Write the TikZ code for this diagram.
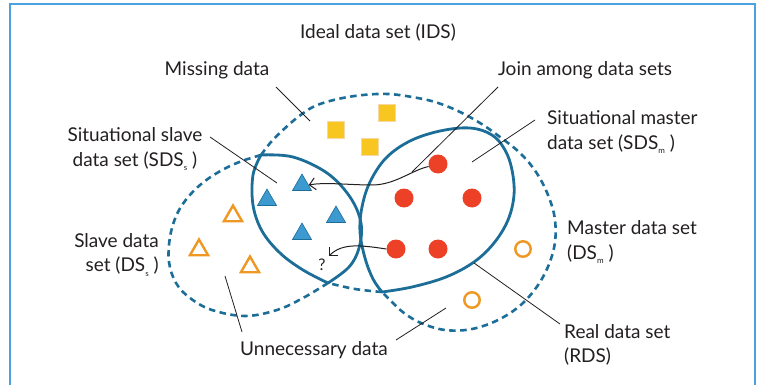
\documentclass[tikz,border=0pt]{standalone}
\usepackage{fontspec}
\setmainfont{Lato}
\usetikzlibrary{arrows.meta,shapes.geometric}
\definecolor{dblue}{HTML}{1C6E98}
\definecolor{tblue}{HTML}{3D9AD0}
\definecolor{tredc}{HTML}{EC4126}
\definecolor{yel}{HTML}{F8C620}
\definecolor{yeledge}{HTML}{F5D9A5}
\definecolor{orng}{HTML}{EE9722}
\definecolor{txt}{HTML}{231F20}
\definecolor{framec}{HTML}{4AA3DF}
\newcommand\subsc[1]{\raisebox{-4.5pt}{\fontsize{8}{8}\selectfont #1}\hspace{5pt}}
\begin{document}
\begin{tikzpicture}[x=1pt,y=-1pt,
  lbl/.style={font=\fontsize{19}{24.5}\selectfont, text=txt, inner sep=0pt},
  dset/.style={draw=dblue, line width=2.6pt, dash pattern=on 6.5pt off 4.5pt},
  sset/.style={draw=dblue, line width=2.8pt, line join=round},
  leader/.style={draw=txt, line width=0.8pt},
  arr/.style={draw=txt, line width=1pt, -{Straight Barb[length=6pt,width=12pt]}},
  btri/.style={regular polygon, regular polygon sides=3, fill=tblue, draw=dblue, line width=0.6pt, minimum size=22pt, inner sep=0pt},
  otri/.style={regular polygon, regular polygon sides=3, draw=orng, line width=2.4pt, minimum size=21pt, inner sep=0pt},
  rdot/.style={circle, fill=tredc, minimum size=19pt, inner sep=0pt},
  odot/.style={circle, draw=orng, line width=2.4pt, minimum size=15.5pt, inner sep=0pt},
  ysq/.style={rectangle, fill=yel, draw=yeledge, line width=0.8pt, minimum size=17pt, inner sep=0pt}]
\useasboundingbox (0,0) rectangle (762,385);
% frame
\draw[framec, line width=2pt] (9.5,386) -- (9.5,4.5) -- (754.5,4.5) -- (754.5,386);

% dashed sets
\draw[dset] plot[smooth, tension=0.6] coordinates {(261,155) (242,161) (224,169) (205,181) (189,196) (177,214) (170,237) (169,262) (176,283) (190,298) (212,310) (245,316) (277,310) (303,298) (328,283)};
\draw[dset] plot[smooth, tension=0.6] coordinates {(261,155) (271,142) (283,130) (298,117) (315,106) (338,99) (363,95) (388,94) (412,97) (435,102) (458,111) (480,123) (500,137) (520,153) (536,172) (548,195) (555,220) (554,248) (543,277) (524,302) (500,319) (472,329) (445,330) (421,323) (404,313) (391,301) (382,292)};
\draw[dset] plot[smooth, tension=0.6] coordinates {(382,292) (355,289) (328,283)};

% solid sets
\draw[sset] plot[smooth, tension=0.6] coordinates {(261,155) (293,157) (327,173) (350,197) (361,223) (359,248) (349,267) (328,283)}
  -- plot[smooth, tension=0.6] coordinates {(328,283) (303,270) (280,253) (262,231) (253,205) (253,175) (261,155)};
\draw[sset] plot[smooth, tension=0.6] coordinates {(382,292) (373,279) (365,258) (360,232) (362,207) (370,182) (386,158) (410,141) (440,131) (470,128) (492,135) (505,150) (512,170) (514,195) (508,220) (494,243) (474,262) (446,277) (412,287) (382,292)};

% items
\node[ysq] (y1) at (336,130) {};
\node[ysq] (y2) at (387,113) {};
\node[ysq] (y3) at (370,147) {};
\node[btri] (t1) at (302,185) {};
\node[btri] (t2) at (267,200) {};
\node[btri] (t3) at (336,217) {};
\node[btri] (t4) at (302,234) {};
\node[otri] (o1) at (233,216) {};
\node[otri] (o2) at (199,250) {};
\node[otri] (o3) at (250,267) {};
\node[rdot] (c1) at (438,164) {};
\node[rdot] (c2) at (404,198) {};
\node[rdot] (c3) at (472,198) {};
\node[rdot] (c4) at (396,249) {};
\node[rdot] (c5) at (438,249) {};
\node[odot] (e1) at (523,249) {};
\node[odot] (e2) at (472,300) {};
\node[lbl, font=\fontsize{16}{16}\selectfont] (q) at (322,265) {?};

% arrows
\coordinate (m1) at (372,185);
\coordinate (qa) at (329,256);
\draw[arr] (c1.195) .. controls (412,170) and (395,185) .. (m1) .. controls (350,185) and (325,182) .. (t1.east);
\draw[arr] (c4.west) .. controls (360,245) and (342,243) .. (qa);

% labels
\node[lbl] (ids) at (378,33) {Ideal data set (IDS)};
\node[lbl] (miss) at (217,70) {Missing data};
\node[lbl] (join) at (585,70) {Join among data sets};
\node[lbl, align=left, anchor=west] (sdsm) at (547,132.5) {Situational master\\data set (SDS\subsc{m})};
\node[lbl, align=center] (sdss) at (135,149.5) {Situational slave\\data set (SDS\subsc{s})};
\node[lbl, align=right, anchor=east] (dss) at (159,255) {Slave data\\set (DS\subsc{s})};
\node[lbl, align=left, anchor=west] (dsm) at (567,242.5) {Master data set\\(DS\subsc{m})};
\node[lbl] (unn) at (314,350) {Unnecessary data};
\node[lbl, align=left, anchor=west] (rds) at (564,345) {Real data set\\(RDS)};

% leaders
\coordinate (l1a) at (276,87);  \coordinate (l1b) at (310,121);
\coordinate (l2a) at (210,137); \coordinate (l2b) at (277,183);
\coordinate (l3a) at (498,87);  \coordinate (l3b) at (412,172);
\coordinate (l4a) at (535,120); \coordinate (l4b) at (472,162);
\coordinate (l5a) at (474,263); \coordinate (l5b) at (560,324);
\coordinate (l6a) at (225,276); \coordinate (l6b) at (242,332);
\coordinate (l7a) at (396,340); \coordinate (l7b) at (446,308);
\draw[leader] (l1a) -- (l1b);
\draw[leader] (l2a) -- (l2b);
\draw[leader] (l3a) -- (l3b);
\draw[leader] (l4a) -- (l4b);
\draw[leader] (l5a) -- (l5b);
\draw[leader] (l6a) -- (l6b);
\draw[leader] (l7a) -- (l7b);
\end{tikzpicture}
\end{document}
